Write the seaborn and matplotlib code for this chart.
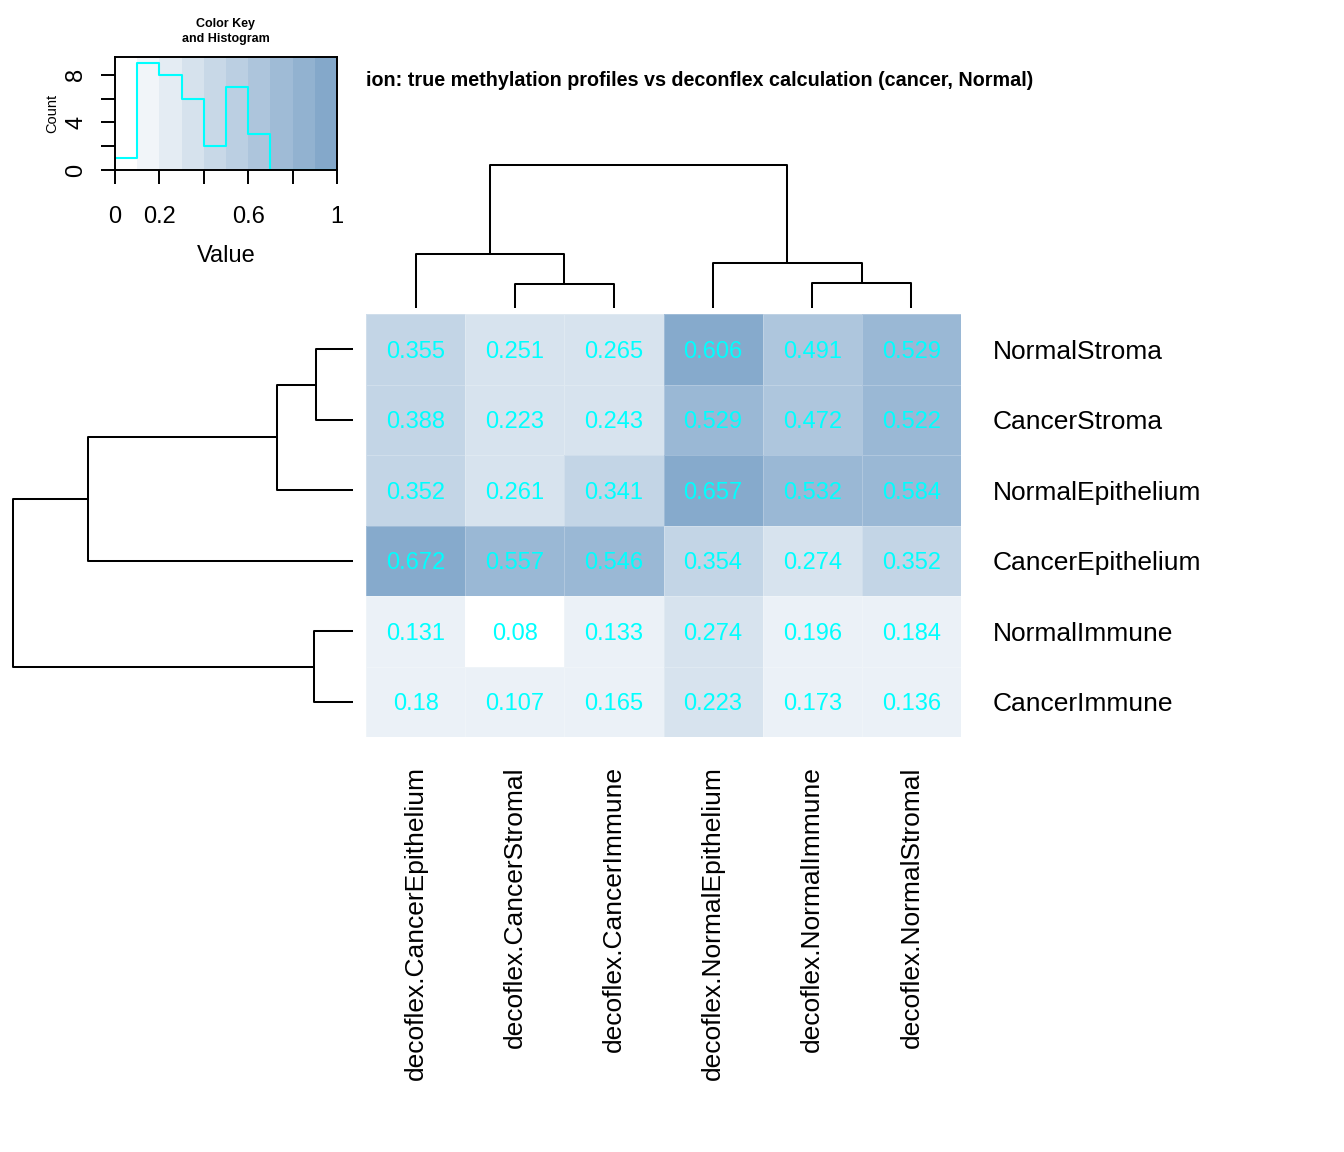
import numpy as np
import pandas as pd
import matplotlib
matplotlib.use('Agg')
import matplotlib.pyplot as plt
import seaborn as sns
from matplotlib.colors import ListedColormap, to_rgb

# ---------------------------------------------
# data (rows / columns in displayed order)
# ---------------------------------------------
row_names = ['NormalStroma', 'CancerStroma', 'NormalEpithelium',
             'CancerEpithelium', 'NormalImmune', 'CancerImmune']
col_names = ['decoflex.CancerEpithelium', 'decoflex.CancerStromal',
             'decoflex.CancerImmune', 'decoflex.NormalEpithelium',
             'decoflex.NormalImmune', 'decoflex.NormalStromal']

normal_stroma     = [0.355, 0.251, 0.265, 0.606, 0.491, 0.529]
cancer_stroma     = [0.388, 0.223, 0.243, 0.529, 0.472, 0.522]
normal_epithelium = [0.352, 0.261, 0.341, 0.657, 0.532, 0.584]
cancer_epithelium = [0.672, 0.557, 0.546, 0.354, 0.274, 0.352]
normal_immune     = [0.131, 0.080, 0.133, 0.274, 0.196, 0.184]
cancer_immune     = [0.180, 0.107, 0.165, 0.223, 0.173, 0.136]

key_breaks = [0.0, 0.1, 0.2, 0.3, 0.4, 0.5, 0.6, 0.7, 0.8, 0.9, 1.0]

title = 'ion: true methylation profiles vs deconflex calculation (cancer, Normal)'

df = pd.DataFrame([normal_stroma, cancer_stroma, normal_epithelium,
                   cancer_epithelium, normal_immune, cancer_immune],
                  index=row_names, columns=col_names)

# ---------------------------------------------
# helpers
# ---------------------------------------------
W, H = 1344, 1152


def px_rect(x0, y0, x1, y1):
    return [x0 / W, 1 - y1 / H, (x1 - x0) / W, (y1 - y0) / H]


def ramp(c_end, n):
    end = np.array(to_rgb(c_end))
    return [tuple(1 + (end - 1) * i / (n - 1)) for i in range(n)]


def complete_linkage(mat):
    X = np.asarray(mat, dtype=float)
    n = len(X)
    D = np.sqrt(((X[:, None, :] - X[None, :, :]) ** 2).sum(-1))
    clusters = {i: [i] for i in range(n)}
    merges = []
    nid = n
    while len(clusters) > 1:
        keys = list(clusters)
        best = None
        for i in range(len(keys)):
            for j in range(i + 1, len(keys)):
                a, b = keys[i], keys[j]
                d = D[np.ix_(clusters[a], clusters[b])].max()
                if best is None or d < best[2]:
                    best = (a, b, d)
        a, b, d = best
        clusters[nid] = clusters.pop(a) + clusters.pop(b)
        merges.append((a, b, d))
        nid += 1
    return merges


def draw_dendro(ax, merges, n, orient):
    pos = {i: i + 0.5 for i in range(n)}
    hgt = {i: 0.0 for i in range(n)}
    for k, (a, b, h) in enumerate(merges):
        xs = [pos[a], pos[a], pos[b], pos[b]]
        ys = [hgt[a], h, h, hgt[b]]
        if orient == 'top':
            ax.plot(xs, ys, color='black', lw=1.45, clip_on=False,
                    solid_capstyle='butt')
        else:
            ax.plot(ys, xs, color='black', lw=1.45, clip_on=False,
                    solid_capstyle='butt')
        pos[n + k] = (pos[a] + pos[b]) / 2
        hgt[n + k] = h
    return max(m[2] for m in merges)


sns.set_theme(style='white')
plt.rcParams['font.family'] = ['Liberation Sans', 'DejaVu Sans']
plt.rcParams['text.color'] = 'black'
plt.rcParams['axes.labelcolor'] = 'black'
plt.rcParams['xtick.color'] = 'black'
plt.rcParams['ytick.color'] = 'black'

fig = plt.figure(figsize=(W / 100, H / 100), dpi=100)

# ---------------------------------------------
# main heatmap
# ---------------------------------------------
heat_cmap = ListedColormap(ramp('#86AACC', 7))
annot = df.map(lambda v: f'{v:g}')

ax = fig.add_axes(px_rect(366, 314, 961, 737))
sns.heatmap(df, ax=ax, cmap=heat_cmap, vmin=0, vmax=0.7, cbar=False,
            annot=annot, fmt='',
            annot_kws={'color': 'cyan', 'fontsize': 17,
                       'va': 'center_baseline'},
            linewidths=0.6, linecolor=(1, 1, 1, 0.22))
ax.yaxis.tick_right()
ax.set_yticklabels(row_names, rotation=0, ha='left', fontsize=19)
ax.set_xticklabels(col_names, rotation=90, va='top', fontsize=19)
ax.tick_params(axis='y', length=0, pad=23)
ax.tick_params(axis='x', length=0, pad=21)
ax.set_xlabel('')
ax.set_ylabel('')

# ---------------------------------------------
# dendrograms
# ---------------------------------------------
ax_col = fig.add_axes(px_rect(366, 165, 961, 308))
col_root = draw_dendro(ax_col, complete_linkage(df.T.values), 6, 'top')
ax_col.set_xlim(0, 6)
ax_col.set_ylim(0, col_root)
ax_col.axis('off')

ax_row = fig.add_axes(px_rect(13, 314, 353, 737))
row_root = draw_dendro(ax_row, complete_linkage(df.values), 6, 'left')
ax_row.set_xlim(row_root, 0)
ax_row.set_ylim(6, 0)
ax_row.axis('off')

# ---------------------------------------------
# color key + histogram
# ---------------------------------------------
axk = fig.add_axes(px_rect(115, 57, 337, 170))
key_cols = ramp('#84A8CA', 10)
for i in range(10):
    axk.axvspan(key_breaks[i], key_breaks[i + 1], color=key_cols[i], lw=0)
counts, edges = np.histogram(df.values.ravel(), bins=key_breaks)
axk.step(edges, np.append(counts, counts[-1]), where='post',
         color='cyan', lw=1.5)
axk.set_xlim(0, 1)
axk.set_ylim(0, 9.5)
axk.set_xticks([0, 0.2, 0.4, 0.6, 0.8, 1.0])
axk.set_xticklabels(['0', '0.2', '', '0.6', '', '1'], fontsize=17)
axk.set_yticks([0, 2, 4, 6, 8])
axk.set_yticklabels(['0', '', '4', '', '8'], fontsize=17,
                    rotation=90, va='center')
axk.tick_params(axis='both', direction='out', length=10, width=1.4,
                color='black', bottom=True, left=True)
axk.tick_params(axis='x', pad=16)
axk.tick_params(axis='y', pad=10)
for s in axk.spines.values():
    s.set_color('black')
    s.set_linewidth(1.4)
axk.set_xlabel('Value', fontsize=17, labelpad=12)
axk.set_ylabel('Count', fontsize=10.5, labelpad=4)
axk.set_title('Color Key\nand Histogram', fontsize=9,
              fontweight='bold', pad=11, linespacing=1.35)

fig.text(366 / W, 1 - 80 / H, title, fontsize=14.2, fontweight='bold',
         ha='left', va='center')

plt.savefig('out.png', dpi=100)
